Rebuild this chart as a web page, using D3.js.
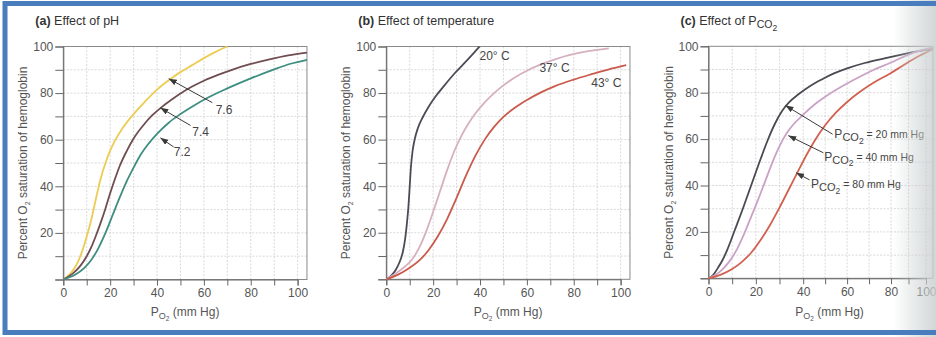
<!DOCTYPE html>
<html>
<head>
<meta charset="utf-8">
<script src="https://cdn.jsdelivr.net/npm/d3@7"></script>
<style>
  body { margin: 0; background: #fff; }
  svg { display: block; }
  text { font-family: "Liberation Sans", Arial, Helvetica, sans-serif; }
</style>
</head>
<body>
<svg id="chart" width="936" height="337"></svg>
<script>
// ---- data: [PO2 mm Hg, % saturation] ----
const ph76 = [[0,0],[3,2.5],[6,7],[8,12],[10,18.5],[12,26],[14,35],[16,43.5],[18,50],[20,55.3],[22,59.5],[25,64.5],[30,71],[35,76.5],[40,81.5],[45,85.5],[50,89],[55,92],[60,95],[65,97.7],[70,100]]
const ph74 = [[0,0],[4,2.5],[7,5.5],[10,10],[12,14],[14,19],[16,24.5],[18,30.5],[20,37],[22,43],[24,48.5],[27,55],[30,60.5],[34,66],[38,70.5],[42,74],[46,77],[50,79.8],[55,82.8],[60,85.3],[66,87.8],[72,90],[80,92.5],[88,94.5],[96,96.2],[104,97.4]]
const ph72 = [[0,0],[5,2],[9,5],[12,8.5],[15,13.5],[18,20],[21,27.5],[24,35],[27,42],[30,48],[33,53.5],[36,57.8],[40,62.5],[45,67.3],[50,71],[56,74.8],[62,78.2],[70,82],[80,86.3],[90,90.2],[97,92.6],[104,94.3]]

const temp20 = [[0,0],[2,1.5],[4,4],[5.5,7],[7,11.5],[8,17],[8.8,24],[9.5,32],[10,40],[10.5,48],[11.2,55],[12.2,60.5],[13.5,65],[15.5,69.5],[18,74],[21,78.5],[25,83.5],[29,88.3],[33,92.5],[36.5,96.3],[39.8,100]]
const temp37 = [[0,0],[4,2.5],[8,5.5],[11,8.5],[14,13.5],[17,20.5],[20,29],[23,38],[26,47],[29,55],[32,61.5],[35,66.8],[38,71.2],[42,76],[46,80],[50,83.3],[55,86.8],[60,89.6],[66,92.3],[72,94.5],[78,96.3],[85,97.8],[95,99.2]]
const temp43 = [[0,0],[5,2],[10,5],[14,8],[18,12.5],[22,18.5],[26,26],[30,35],[34,44.5],[38,53],[42,60],[46,65.5],[50,69.8],[55,73.8],[60,77],[66,80.3],[72,83],[80,85.8],[88,88.2],[95,90.2],[102.4,92]]

const co2_20 = [[0,0],[2,1.5],[4,4.5],[6,8],[8,12.5],[11,20.5],[14.5,30],[18,40],[21.5,50],[25,59.5],[28,66.5],[31,72],[34,75.8],[38,79.3],[43,82.8],[48,85.5],[54,88.3],[60,90.5],[68,92.8],[77,94.8],[86,96.4],[95,97.8],[104,99]]
const co2_40 = [[0,0],[3,1.5],[6,4],[9,7.5],[12,12.5],[15,19],[18,26.5],[21,34],[24,42],[27,50],[30,57],[33,62.5],[36,66.5],[40,70.5],[45,74.8],[50,78.3],[55,81.3],[60,84],[66,87],[72,89.8],[80,93],[88,95.8],[96,98],[104,99.5]]
const co2_80 = [[0,0],[5,1.5],[10,4],[14,7],[18,11],[22,16.5],[26,23],[30,30.5],[34,38.5],[38,46.5],[42,54],[46,60.5],[50,66],[55,71.5],[60,76],[66,80.5],[72,84.3],[80,88.5],[88,92.3],[96,95.8],[104,98.8]]

// curve labels: [x, y, text] ; arrows: [tipX, tipY, tailX, tailY]
const phLabels = [[68.6, 73, '7.6'], [58.6, 63.2, '7.4'], [50.7, 54.6, '7.2']]
const phArrows = [[45, 86.2, 63.6, 75.9], [41.4, 73.7, 54.3, 66.1], [41.4, 60.8, 47.1, 56.9]]
const tempLabels = [[46.2, 96, '20° C'], [71.8, 91, '37° C'], [93.9, 84.5, '43° C']]
const co2Labels = [[54.2, 60.3, '20'], [49.6, 50.7, '40'], [43.6, 38.8, '80']]
const co2Arrows = [[32.5, 74.5, 53.4, 62.1], [33.7, 61.5, 49.2, 54.1], [37, 45.5, 42.9, 42.4]]

const xTicks = d3.range(0, 101, 10)
const yTicks = d3.range(0, 101, 10)
const xTickLabels = [0, 20, 40, 60, 80, 100]
const yTickLabels = [20, 40, 60, 80, 100]
const xMax = 104

const svg = d3.select('#chart')

const defs = svg.append('defs')
defs.append('marker')
  .attr('id', 'arrow')
  .attr('viewBox', '0 -3 8 6')
  .attr('refX', 8).attr('refY', 0)
  .attr('markerUnits', 'userSpaceOnUse')
  .attr('markerWidth', 8).attr('markerHeight', 6)
  .attr('orient', 'auto')
  .append('path').attr('d', 'M0,-3L8,0L0,3Z').attr('fill', '#3a3a3a')

const shade = defs.append('linearGradient').attr('id', 'shade')
  .attr('x1', 0).attr('x2', 1).attr('y1', 0).attr('y2', 0)
shade.append('stop').attr('offset', 0).attr('stop-color', '#c9cfcf').attr('stop-opacity', 0)
shade.append('stop').attr('offset', 1).attr('stop-color', '#c9cfcf').attr('stop-opacity', 0.85)

svg.append('rect').attr('width', 936).attr('height', 337).attr('fill', '#fff')

// text with nested subscripts
function richText(sel, parts) {
  parts.forEach(p => {
    sel.append('tspan')
      .attr('font-size', p.size)
      .attr('font-weight', p.bold ? 'bold' : null)
      .attr('dy', p.dy || 0)
      .text(p.t)
  })
  return sel
}

const panels = [
  {
    xDomain: [0, 100], xRange: [63.3, 297.6], yRange: [279.5, 46.5],
    title: [{ t: '(a) ', size: 12.5, bold: true }, { t: 'Effect of pH', size: 12.5 }],
    series: [[ph76, '#eccc52'], [ph74, '#6f4d50'], [ph72, '#3e8e80']],
    labels: phLabels, arrows: phArrows
  },
  {
    xDomain: [0, 100], xRange: [386.3, 620.6], yRange: [279.3, 46.5],
    title: [{ t: '(b) ', size: 12.5, bold: true }, { t: 'Effect of temperature', size: 12.5 }],
    series: [[temp20, '#4b4b55'], [temp37, '#d6b0bf'], [temp43, '#c95a4c']],
    labels: tempLabels, arrows: []
  },
  {
    // right side of this panel bends into the page spine, so x gets squeezed
    xDomain: [0, 40, 80, 100], xRange: [708.5, 803.2, 891, 926], yRange: [278.3, 46.3],
    title: [{ t: '(c) ', size: 12.5, bold: true }, { t: 'Effect of P', size: 12.5 },
      { t: 'CO', size: 10.5, dy: 3 }, { t: '2', size: 8.5, dy: 2.5 }],
    series: [[co2_20, '#4a4a52'], [co2_40, '#caa2c6'], [co2_80, '#d2604f']],
    co2: true, labels: co2Labels, arrows: co2Arrows
  }
]

panels.forEach(p => {
  const x = d3.scaleLinear().domain(p.xDomain).range(p.xRange)
  const y = d3.scaleLinear().domain([0, 100]).range(p.yRange)
  const g = svg.append('g')

  // grid
  g.selectAll('.vg').data(xTicks.slice(1)).join('line')
    .attr('x1', d => x(d)).attr('x2', d => x(d))
    .attr('y1', y(0)).attr('y2', y(100))
    .attr('stroke', '#cfcfcf').attr('stroke-width', 0.8).attr('stroke-dasharray', '2,1.5')
  g.selectAll('.hg').data(yTicks.slice(1, -1)).join('line')
    .attr('x1', x(0)).attr('x2', x(xMax))
    .attr('y1', d => y(d)).attr('y2', d => y(d))
    .attr('stroke', '#cfcfcf').attr('stroke-width', 0.8).attr('stroke-dasharray', '2,1.5')

  // frame
  g.append('rect')
    .attr('x', x(0)).attr('y', y(100))
    .attr('width', x(xMax) - x(0)).attr('height', y(0) - y(100))
    .attr('fill', 'none').attr('stroke', '#8a8a8a').attr('stroke-width', 1)

  // axes
  const ax = g.append('g').attr('transform', `translate(0,${y(0)})`)
    .call(d3.axisBottom(x).tickValues(xTicks).tickSize(6).tickPadding(3)
      .tickFormat(d => xTickLabels.includes(d) ? d : ''))
  const ay = g.append('g').attr('transform', `translate(${x(0)},0)`)
    .call(d3.axisLeft(y).tickValues(yTicks).tickSize(8).tickPadding(2)
      .tickFormat(d => yTickLabels.includes(d) ? d : ''))
  ;[ax, ay].forEach(a => {
    a.select('.domain').attr('stroke', '#666')
    a.selectAll('.tick line').attr('stroke', '#666')
    a.selectAll('.tick text').attr('fill', '#555').attr('font-size', 12)
      .attr('font-family', '"Liberation Sans", Arial, sans-serif')
  })

  // curves
  const line = d3.line().x(d => x(d[0])).y(d => y(d[1])).curve(d3.curveMonotoneX)
  p.series.forEach(([data, color]) => {
    g.append('path').datum(data)
      .attr('fill', 'none').attr('stroke', color).attr('stroke-width', 1.8)
      .attr('d', line)
  })

  // arrows
  p.arrows.forEach(([tx, ty, sx, sy]) => {
    g.append('line')
      .attr('x1', x(sx)).attr('y1', y(sy)).attr('x2', x(tx)).attr('y2', y(ty))
      .attr('stroke', '#3a3a3a').attr('stroke-width', 1)
      .attr('marker-end', 'url(#arrow)')
  })

  // curve labels
  p.labels.forEach(([lx, ly, t]) => {
    const txt = g.append('text').attr('fill', '#444')
    if (p.co2) {
      txt.attr('x', x(lx)).attr('y', y(ly))
      richText(txt, [{ t: 'P', size: 12 }, { t: 'CO', size: 11, dy: 3 }, { t: '2', size: 8.5, dy: 2.5 },
        { t: ` = ${t} mm Hg`, size: 10.5, dy: -5.5 }])
    } else {
      txt.attr('x', x(lx)).attr('y', y(ly)).attr('dy', '0.35em')
        .attr('text-anchor', 'middle').attr('font-size', 12).text(t)
    }
  })

  // title
  richText(svg.append('text').attr('x', x(0) - 28).attr('y', 25).attr('fill', '#333'), p.title)

  // x label
  richText(svg.append('text').attr('x', x(52)).attr('y', 316).attr('text-anchor', 'middle').attr('fill', '#555'),
    [{ t: 'P', size: 12 }, { t: 'O', size: 9, dy: 3 }, { t: '2', size: 6.5, dy: 2 }, { t: ' (mm Hg)', size: 12, dy: -5 }])

  // y label
  richText(svg.append('text')
    .attr('transform', `translate(${x(0) - 36},${(y(0) + y(100)) / 2}) rotate(-90)`)
    .attr('text-anchor', 'middle').attr('fill', '#555'),
    [{ t: 'Percent O', size: 12 }, { t: '2', size: 7, dy: 3 }, { t: ' saturation of hemoglobin', size: 12, dy: -3 }])
})

// scan shadow near the book spine
svg.append('rect').attr('x', 893).attr('y', 0).attr('width', 43).attr('height', 337).attr('fill', 'url(#shade)')

// blue frame around the figure
svg.append('rect')
  .attr('x', 5).attr('y', 3.5).attr('width', 960).attr('height', 329)
  .attr('fill', 'none').attr('stroke', '#4a7dbd').attr('stroke-width', 5)
</script>
</body>
</html>
